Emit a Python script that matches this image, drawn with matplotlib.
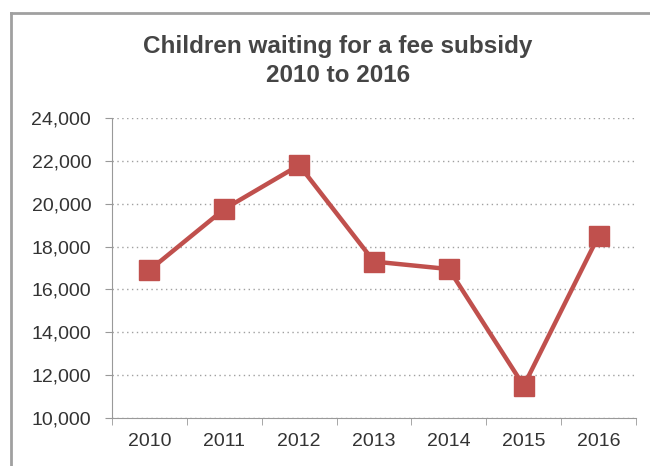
import matplotlib.pyplot as plt
from matplotlib.lines import Line2D
from matplotlib.ticker import FuncFormatter, FixedLocator

years = ["2010", "2011", "2012", "2013", "2014", "2015", "2016"]
children_waiting = [16900, 19750, 21800, 17300, 16950, 11500, 18500]
y_ticks = [10000, 12000, 14000, 16000, 18000, 20000, 22000, 24000]

plt.rcParams['font.family'] = ['Liberation Sans', 'DejaVu Sans']

fig = plt.figure(figsize=(6.5, 4.66), dpi=100)
ax = fig.add_axes([112/650, 1-418/466, (636-112)/650, 300/466])

x = list(range(len(years)))
ax.plot(x, children_waiting, color='#C0504D', lw=3.2, marker='s', ms=14,
        markerfacecolor='#C0504D', markeredgecolor='#C0504D', zorder=3)

ax.set_xlim(-0.5, len(years) - 0.5)
ax.set_ylim(10000, 24000)
ax.set_yticks(y_ticks)
ax.yaxis.set_major_formatter(FuncFormatter(lambda v, p: f"{int(v):,}"))
ax.set_xticks(x)
ax.set_xticklabels(years)
ax.xaxis.set_minor_locator(FixedLocator([i - 0.5 for i in range(len(years) + 1)]))

ax.tick_params(axis='x', which='major', length=0, pad=11, labelsize=14, colors='#333333')
ax.tick_params(axis='x', which='minor', length=5, direction='out', color='#999999')
ax.tick_params(axis='y', length=5, direction='out', color='#999999', labelsize=14,
               labelcolor='#333333', pad=10)

ax.grid(axis='y', linestyle=(0, (1, 2.5)), color='#A0A0A0', lw=1)
ax.set_axisbelow(True)
for s in ['top', 'right']:
    ax.spines[s].set_visible(False)
for s in ['left', 'bottom']:
    ax.spines[s].set_color('#999999')

fig.text(338/650, 1-47/466, "Children waiting for a fee subsidy", ha='center', va='center',
         fontsize=17.5, fontweight='bold', color='#454545')
fig.text(338/650, 1-75/466, "2010 to 2016", ha='center', va='center',
         fontsize=17.5, fontweight='bold', color='#454545')

# chart frame (cut off at right and bottom)
fig.add_artist(Line2D([11/650, 11/650], [0, 1-13/466], transform=fig.transFigure,
                      color='#A0A0A0', lw=2))
fig.add_artist(Line2D([11/650, 1], [1-13/466, 1-13/466], transform=fig.transFigure,
                      color='#A0A0A0', lw=2))

fig.savefig("out.png", dpi=100)
